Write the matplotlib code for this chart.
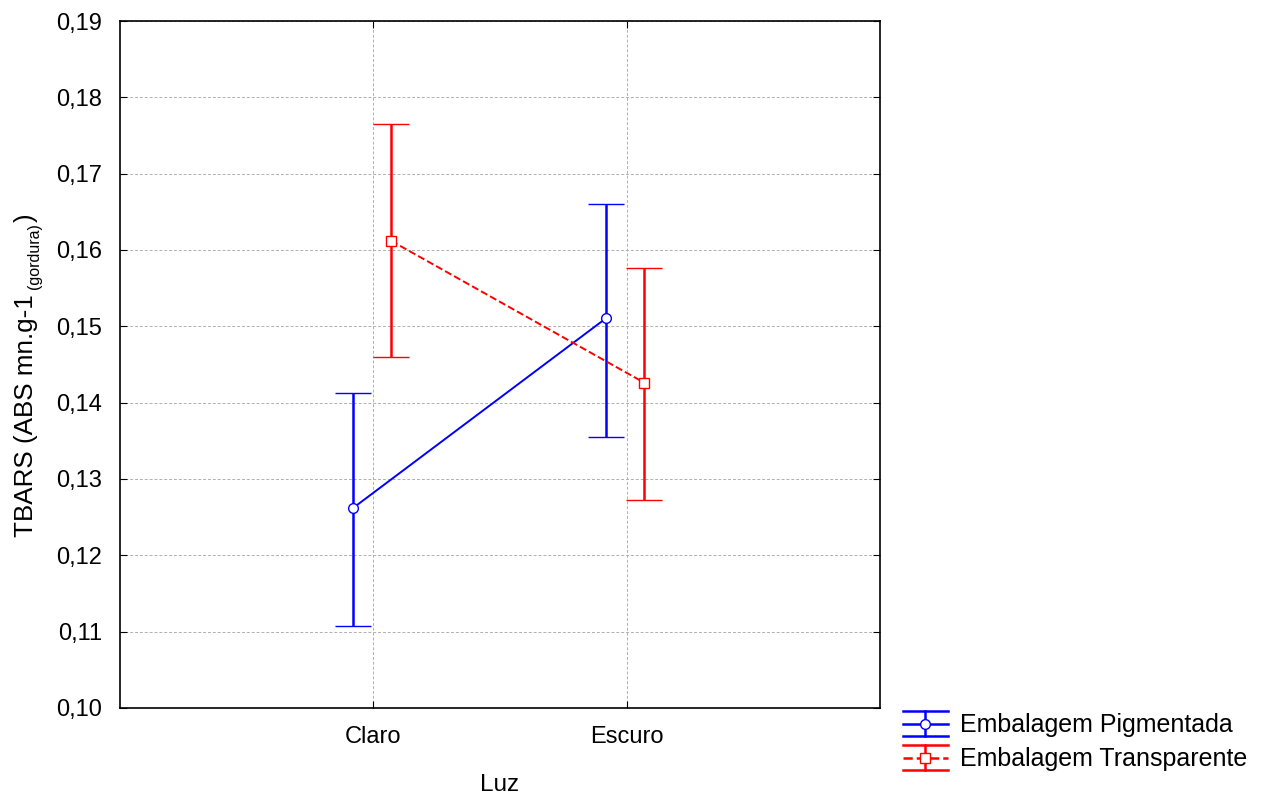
import numpy as np
import matplotlib
matplotlib.use("Agg")
import matplotlib.pyplot as plt
from matplotlib.lines import Line2D
from matplotlib.legend_handler import HandlerBase

plt.rcParams['font.family'] = ['Liberation Sans', 'DejaVu Sans']

# data
categories = ["Claro", "Escuro"]
pig_mean = [0.1262, 0.1511]
pig_low = [0.1107, 0.1355]
pig_high = [0.1413, 0.1660]
tra_mean = [0.1612, 0.1426]
tra_low = [0.1460, 0.1272]
tra_high = [0.1765, 0.1576]
y_ticks = [0.10, 0.11, 0.12, 0.13, 0.14, 0.15, 0.16, 0.17, 0.18, 0.19]

W, H = 1269, 796


class ErrorbarKey(HandlerBase):
    """legend key: wide caps top/bottom, vertical bar, line with marker"""

    def __init__(self, color, marker, ls):
        super().__init__()
        self.color, self.marker, self.ls = color, marker, ls

    def create_artists(self, legend, orig_handle, xdescent, ydescent,
                       width, height, fontsize, trans):
        x0, x1 = -xdescent, -xdescent + width
        xm = (x0 + x1) / 2
        ym = -ydescent + height / 2
        h = 12.5 * 72 / 100  # half height in points
        kw = dict(color=self.color, lw=1.8, transform=trans)
        arts = [
            Line2D([x0, x1], [ym + h, ym + h], **kw),
            Line2D([x0, x1], [ym - h, ym - h], **kw),
            Line2D([xm, xm], [ym - h, ym + h], **kw),
            Line2D([x0, x1], [ym, ym], ls=self.ls, **kw),
            Line2D([xm], [ym], marker=self.marker, markersize=7,
                   markerfacecolor='white', markeredgecolor=self.color,
                   transform=trans),
        ]
        return arts


fig = plt.figure(figsize=(W / 100, H / 100), dpi=100)
ax = fig.add_axes([0.0946, 0.1106, 0.5989, 0.8630])

x = np.arange(1, len(categories) + 1)


def draw(offset, mean, low, high, color, marker, ls, label):
    mean = np.array(mean)
    err = [mean - np.array(low), np.array(high) - mean]
    return ax.errorbar(x + offset, mean, yerr=err, color=color, ls=ls, lw=1.4,
                       marker=marker, markersize=7, markerfacecolor='white',
                       markeredgecolor=color, markeredgewidth=1.0,
                       capsize=13, capthick=1.8, elinewidth=1.8, label=label,
                       zorder=3)


h1 = draw(-0.08, pig_mean, pig_low, pig_high, '#0000ff', 'o', '-', "Embalagem Pigmentada")
h2 = draw(0.07, tra_mean, tra_low, tra_high, '#ff0000', 's', '--', "Embalagem Transparente")

ax.set_xlim(0, 3)
ax.set_ylim(0.10, 0.19)
ax.set_xticks(x)
ax.set_xticklabels(categories)
ax.set_yticks(y_ticks)
ax.set_yticklabels([f"{v:.2f}".replace('.', ',') for v in y_ticks])
ax.tick_params(direction='in', top=True, right=True, labelsize=17, length=5,
               pad=13)
ax.grid(True, color='#b0b0b0', ls='--', lw=0.7, dashes=(3, 2))
for s in ax.spines.values():
    s.set_linewidth(1.2)

ax.set_xlabel("Luz", fontsize=17.5, labelpad=19)

# y label built from pieces so the subscript can be small
rot = dict(rotation=90, rotation_mode='anchor', ha='left', va='baseline')
main = fig.text(33 / W, 1 - 537 / H, "TBARS (ABS mn.g-1", fontsize=18.7, **rot)
fig.canvas.draw()
bb = main.get_window_extent()
sub = fig.text(39 / W, (bb.y1 + 5) / H, "(gordura)", fontsize=11.5, **rot)
fig.canvas.draw()
bb2 = sub.get_window_extent()
fig.text(33 / W, (bb2.y1 + 1) / H, ")", fontsize=18.7, **rot)

ax.legend([h1, h2], ["Embalagem Pigmentada", "Embalagem Transparente"],
          handler_map={h1: ErrorbarKey('#0000ff', 'o', '-'),
                       h2: ErrorbarKey('#ff0000', 's', '--')},
          loc='lower left', bbox_to_anchor=(1.0, -0.125), frameon=False,
          fontsize=18, handlelength=1.8, handleheight=0.8, labelspacing=0.4,
          handletextpad=0.5)

fig.savefig("out.png", dpi=100)
